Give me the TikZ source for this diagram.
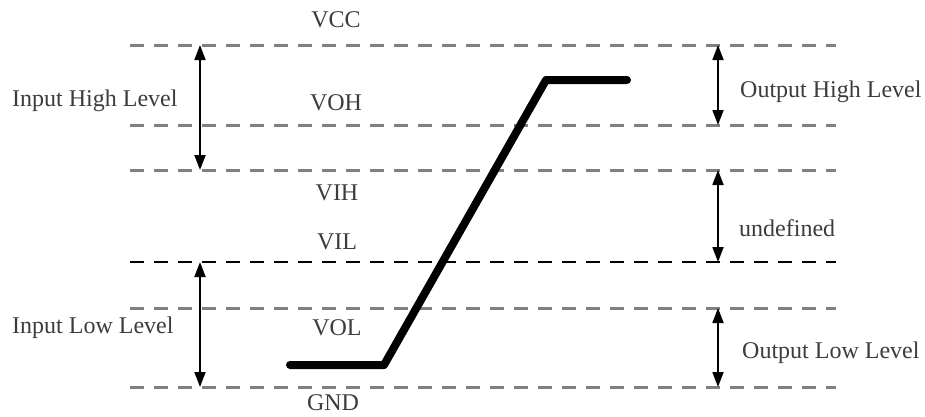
\documentclass[tikz,border=0pt]{standalone}
\usepackage{fontspec}
\setmainfont{Liberation Serif}
\usetikzlibrary{arrows.meta}
\definecolor{txtgray}{RGB}{60,60,60}
\definecolor{dashgray}{RGB}{128,128,128}
\tikzset{
 level/.style={dashgray,line width=3pt,dash pattern=on 14pt off 10pt},
 span/.style={{Triangle[length=15pt,width=11pt]}-{Triangle[length=15pt,width=11pt]},line width=1.8pt},
 lbl/.style={text=txtgray,inner sep=0pt,font=\fontsize{24}{27}\selectfont},
}
\begin{document}
\begin{tikzpicture}[x=1pt,y=-1pt,line join=round,line cap=butt]
 \useasboundingbox (0,0) rectangle (925,416);
 \def\xl{130}\def\xr{836}
 % voltage levels
 \coordinate (vcc) at (0,45);  \coordinate (voh) at (0,125);
 \coordinate (vih) at (0,170); \coordinate (vil) at (0,262);
 \coordinate (vol) at (0,308); \coordinate (gnd) at (0,387);
 \foreach \lv in {vcc,voh,vih,vol,gnd}
   \draw[level] (\xl,0 |- \lv) -- (\xr,0 |- \lv);
 \draw[black,line width=2pt,dash pattern=on 14pt off 10pt] (\xl,0 |- vil) -- (\xr,0 |- vil);
 % level names
 \node[lbl] (tvcc) at (336,20) {VCC};
 \node[lbl] (tvoh) at (336,103) {VOH};
 \node[lbl] (tvih) at (337,193) {VIH};
 \node[lbl] (tvil) at (337,242) {VIL};
 \node[lbl] (tvol) at (337,328) {VOL};
 \node[lbl] (tgnd) at (333,403) {GND};
 % input ranges
 \draw[span] (200,0 |- vcc) -- (200,0 |- vih);
 \draw[span] (200,0 |- vil) -- (200,0 |- gnd);
 \node[lbl,anchor=west] (inhi) at (12,101) {Input High Level};
 \node[lbl,anchor=west] (inlo) at (12,328) {Input Low Level};
 % output ranges
 \draw[span] (718,0 |- vcc) -- (718,0 |- voh);
 \draw[span] (718,0 |- vih) -- (718,0 |- vil);
 \draw[span] (718,0 |- vol) -- (718,0 |- gnd);
 \node[lbl,anchor=west] (outhi) at (740,92) {Output High Level};
 \node[lbl,anchor=west] (undef) at (739,228) {undefined};
 \node[lbl,anchor=west] (outlo) at (742,353) {Output Low Level};
 % transfer curve
 \draw[line width=8pt,line cap=round] (290,365) -- (384,365) -- (546,80) -- (627,80);
\end{tikzpicture}
\end{document}
